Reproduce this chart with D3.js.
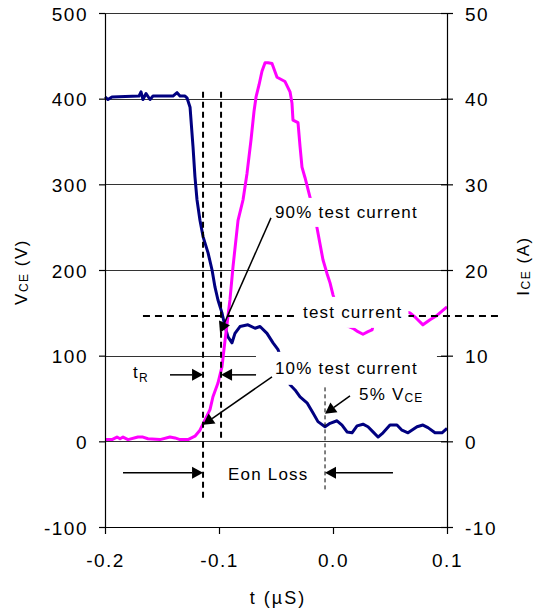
<!DOCTYPE html>
<html>
<head>
<meta charset="utf-8">
<script src="https://cdn.jsdelivr.net/npm/d3@7"></script>
<style>
  html, body { margin: 0; padding: 0; background: #fff; }
  svg { display: block; font-family: "Liberation Sans", Arial, Helvetica, sans-serif; }
</style>
</head>
<body>
<svg id="chart" width="538" height="613"></svg>
<script>
// 刻度
const timeTicks = [-0.2, -0.1, 0.0, 0.1];
const vceTicks = [-100, 0, 100, 200, 300, 400, 500];
const iceTicks = [-10, 0, 10, 20, 30, 40, 50];

// VCE 曲线 (V)
const vceTime = [
  -0.2, -0.1974, -0.1939, -0.1702, -0.1684, -0.1667, -0.164, -0.1605, -0.1579,
  -0.1404, -0.1368, -0.1342, -0.1298, -0.1281, -0.1254, -0.1228, -0.1211, -0.1193,
  -0.1167, -0.114, -0.1096, -0.1061, -0.1035, -0.1009, -0.0974, -0.0947, -0.0921,
  -0.0886, -0.086, -0.0816, -0.0746, -0.0684, -0.064, -0.0579, -0.0526, -0.0482,
  -0.043, -0.0377, -0.0333, -0.0289, -0.0228, -0.0175, -0.0132, -0.007, -0.0026,
  0.0035, 0.0079, 0.0123, 0.0167, 0.0211, 0.0263, 0.0307, 0.0351, 0.0395, 0.0439,
  0.05, 0.0561, 0.0605, 0.0658, 0.0737, 0.0789, 0.0833, 0.0895, 0.0956, 0.1
];
const vceValues = [
  402, 399, 402, 403, 408, 399, 406, 399, 403,
  403, 407, 403, 403, 401, 390, 344, 309, 282,
  258, 239, 220, 200, 180, 165, 150, 134, 122,
  115, 126, 134, 136, 132, 134, 126, 115, 107,
  87, 66, 60, 52, 45, 33, 23, 17, 21,
  24, 19, 11, 10, 18, 20, 17, 11, 5, 10,
  19, 19, 13, 10, 17, 19, 16, 10, 10, 15
];

// ICE 曲线 (A)
const iceTime = [
  -0.2, -0.1939, -0.1895, -0.1868, -0.1842, -0.1798, -0.1711, -0.1667, -0.1623,
  -0.1518, -0.143, -0.1386, -0.1342, -0.1272, -0.1211, -0.1167, -0.1123, -0.1079,
  -0.1053, -0.1009, -0.0974, -0.0947, -0.0904, -0.0877, -0.0833, -0.0789, -0.0754,
  -0.0719, -0.0693, -0.0675, -0.0649, -0.0623, -0.0596, -0.057, -0.0535, -0.0491,
  -0.0421, -0.0377, -0.036, -0.0351, -0.0307, -0.0289, -0.0272, -0.0246, -0.0202,
  -0.0167, -0.014, -0.0088, -0.0053, -0.0026, 0.0, 0.0044, 0.0105, 0.0175, 0.0219,
  0.0263, 0.0307, 0.0342, 0.037, 0.0588, 0.0675, 0.0728, 0.0789, 0.0851, 0.0912,
  0.0956, 0.1
];
const iceValues = [
  0.2, 0.2, 0.5, 0.3, 0.5, 0.2, 0.5, 0.5, 0.3,
  0.2, 0.5, 0.4, 0.2, 0.2, 0.6, 1.3, 2.5, 3.7,
  5.2, 6.8, 8.7, 11.8, 16.5, 20.4, 25.8, 28.2, 31.3,
  35.2, 38.5, 40.2, 41.6, 43.2, 44.2, 44.2, 44.1, 42.5,
  42.0, 40.8, 39.5, 37.5, 37.2, 34.4, 32.0, 30.8, 28.5,
  26.8, 24.9, 21.2, 19.6, 18.5, 17.1, 15.3, 13.6, 13.2, 12.8,
  12.5, 12.8, 13.0, 14.3, 15.3, 15.0, 14.4, 13.6, 14.2, 14.7,
  15.2, 15.7
];

// 标注：虚线、箭头、文字 (数据坐标 t, VCE)
const vDashes = [
  { t: -0.114, v0: 408, v1: -68, thin: false },
  { t: -0.0982, v0: 408, v1: 2, thin: false },
  { t: -0.007, v0: 63, v1: -57, thin: true }
];
const testCurrent = { v: 146.4, t0: -0.1667, t1: 0.1465 };
const arrows = [
  { t0: -0.143, v0: 77.6, t1: -0.114, v1: 77.6 },
  { t0: -0.0675, v0: 77.6, t1: -0.0982, v1: 77.6 },
  { t0: -0.1842, v0: -36.8, t1: -0.114, v1: -36.8 },
  { t0: 0.0526, v0: -36.8, t1: -0.007, v1: -36.8 },
  { t0: -0.0544, v0: 260.8, t1: -0.0991, v1: 126.6 },
  { t0: -0.0535, v0: 75.3, t1: -0.114, v1: 19.3 },
  { t0: 0.0149, v0: 53.1, t1: -0.007, v1: 32.1 }
];
const notes = [
  { text: '90% test current', t: -0.0509, v: 260.8, box: [7, 5] },
  { text: 'test current', t: -0.0263, v: 144.1, box: [6, 6] },
  { text: '10% test current', t: -0.0509, v: 78.8, box: [19, 7] },
  { text: '5% V', sub: 'CE', t: 0.0228, v: 48.4 },
  { text: 't', sub: 'R', t: -0.1754, v: 74.1 },
  { text: 'Eon Loss', t: -0.0921, v: -44.9 }
];

const svg = d3.select('#chart');

const x = d3.scaleLinear().domain([-0.2, 0.1]).range([105, 447]);
const yV = d3.scaleLinear().domain([-100, 500]).range([527, 13]);
const yI = d3.scaleLinear().domain([-10, 50]).range([527, 13]);

// 网格线
svg.append('g')
  .selectAll('line')
  .data(vceTicks.filter(d => d > -100))
  .enter()
  .append('line')
  .attr('x1', x(-0.2))
  .attr('x2', x(0.1))
  .attr('y1', d => Math.round(yV(d)) + 0.5)
  .attr('y2', d => Math.round(yV(d)) + 0.5)
  .attr('stroke', '#333')
  .attr('stroke-width', 1);

// 数据曲线
const vceLine = d3.line().x(d => x(d[0])).y(d => yV(d[1]));
const iceLine = d3.line().x(d => x(d[0])).y(d => yI(d[1]));

svg.append('path')
  .datum(d3.zip(vceTime, vceValues))
  .attr('d', vceLine)
  .attr('fill', 'none')
  .attr('stroke', '#000080')
  .attr('stroke-width', 3)
  .attr('stroke-linejoin', 'round');

svg.append('path')
  .datum(d3.zip(iceTime, iceValues))
  .attr('d', iceLine)
  .attr('fill', 'none')
  .attr('stroke', '#ff00ff')
  .attr('stroke-width', 3)
  .attr('stroke-linejoin', 'round');

// 虚线
svg.append('g')
  .selectAll('line')
  .data(vDashes)
  .enter()
  .append('line')
  .attr('x1', d => x(d.t))
  .attr('x2', d => x(d.t))
  .attr('y1', d => yV(d.v0))
  .attr('y2', d => yV(d.v1))
  .attr('stroke', '#000')
  .attr('stroke-width', d => d.thin ? 1 : 2)
  .attr('stroke-dasharray', d => d.thin ? '4,3' : '6,4');

svg.append('line')
  .attr('x1', x(testCurrent.t0))
  .attr('x2', x(testCurrent.t1))
  .attr('y1', yV(testCurrent.v))
  .attr('y2', yV(testCurrent.v))
  .attr('stroke', '#000')
  .attr('stroke-width', 2)
  .attr('stroke-dasharray', '7,5');

// 文字标注（带白底）
const noteG = svg.append('g');
notes.forEach(n => {
  const g = noteG.append('g');
  const txt = g.append('text')
    .attr('x', x(n.t))
    .attr('y', yV(n.v))
    .attr('font-size', 17)
    .attr('letter-spacing', 1.2)
    .attr('fill', '#000')
    .text(n.text);
  if (n.sub) {
    txt.append('tspan')
      .attr('font-size', 12)
      .attr('dy', n.sub === 'R' ? 4 : 2)
      .text(n.sub);
  }
  if (n.box) {
    const b = txt.node().getBBox();
    g.insert('rect', 'text')
      .attr('x', b.x - n.box[0])
      .attr('y', b.y - n.box[1])
      .attr('width', b.width + 2 * n.box[0])
      .attr('height', b.height + 2 * n.box[1])
      .attr('fill', '#fff');
  }
});

// 箭头
const arrowG = svg.append('g');
arrows.forEach(a => {
  const x1 = x(a.t0), y1 = yV(a.v0), x2 = x(a.t1), y2 = yV(a.v1);
  const ang = Math.atan2(y2 - y1, x2 - x1);
  const len = 11, half = 6;
  const bx = x2 - len * Math.cos(ang), by = y2 - len * Math.sin(ang);
  arrowG.append('line')
    .attr('x1', x1).attr('y1', y1)
    .attr('x2', bx).attr('y2', by)
    .attr('stroke', '#000')
    .attr('stroke-width', 1.5);
  arrowG.append('path')
    .attr('d', `M${x2},${y2}L${bx - half * Math.sin(ang)},${by + half * Math.cos(ang)}L${bx + half * Math.sin(ang)},${by - half * Math.cos(ang)}Z`)
    .attr('fill', '#000');
});

// 坐标轴
const leftAxis = svg.append('g')
  .attr('transform', `translate(${x(-0.2)},0)`)
  .call(d3.axisLeft(yV).tickValues(vceTicks).tickSize(6).tickSizeOuter(0)
    .tickPadding(11).tickFormat(d => String(d)));

const rightAxis = svg.append('g')
  .attr('transform', `translate(${x(0.1)},0)`)
  .call(d3.axisRight(yI).tickValues(iceTicks).tickSize(6).tickSizeOuter(0)
    .tickPadding(12).tickFormat(d => String(d)));
rightAxis.selectAll('.tick line').attr('x1', -6);

const bottomAxis = svg.append('g')
  .attr('transform', `translate(0,${yV(-100)})`)
  .call(d3.axisBottom(x).tickValues(timeTicks).tickSize(7).tickSizeOuter(0)
    .tickPadding(20).tickFormat(d => d.toFixed(1)));

[leftAxis, rightAxis, bottomAxis].forEach(ax => {
  ax.attr('font-family', null).attr('font-size', null);
  ax.select('.domain').attr('stroke', '#000').attr('stroke-width', 1.2);
  ax.selectAll('.tick line').attr('stroke', '#000').attr('stroke-width', 1.2);
  ax.selectAll('.tick text')
    .attr('font-size', 19)
    .attr('letter-spacing', 1.5)
    .attr('fill', '#000');
});
leftAxis.selectAll('.tick text').attr('dy', '0.38em');
rightAxis.selectAll('.tick text').attr('dy', '0.38em');

// 轴标题
const leftTitle = svg.append('text')
  .attr('transform', 'translate(27,272) rotate(-90)')
  .attr('text-anchor', 'middle')
  .attr('font-size', 17)
  .attr('letter-spacing', 1.5);
leftTitle.append('tspan').text('V');
leftTitle.append('tspan').attr('font-size', 12).attr('dy', 1).text('CE');
leftTitle.append('tspan').attr('dy', -1).text(' (V)');

const rightTitle = svg.append('text')
  .attr('transform', 'translate(529,266) rotate(-90)')
  .attr('text-anchor', 'middle')
  .attr('font-size', 17)
  .attr('letter-spacing', 1.5);
rightTitle.append('tspan').text('I');
rightTitle.append('tspan').attr('font-size', 12).attr('dy', 1).text('CE');
rightTitle.append('tspan').attr('dy', -1).text(' (A)');

svg.append('text')
  .attr('x', 278)
  .attr('y', 604)
  .attr('text-anchor', 'middle')
  .attr('font-size', 18)
  .attr('letter-spacing', 2)
  .text('t (µS)');
</script>
</body>
</html>
